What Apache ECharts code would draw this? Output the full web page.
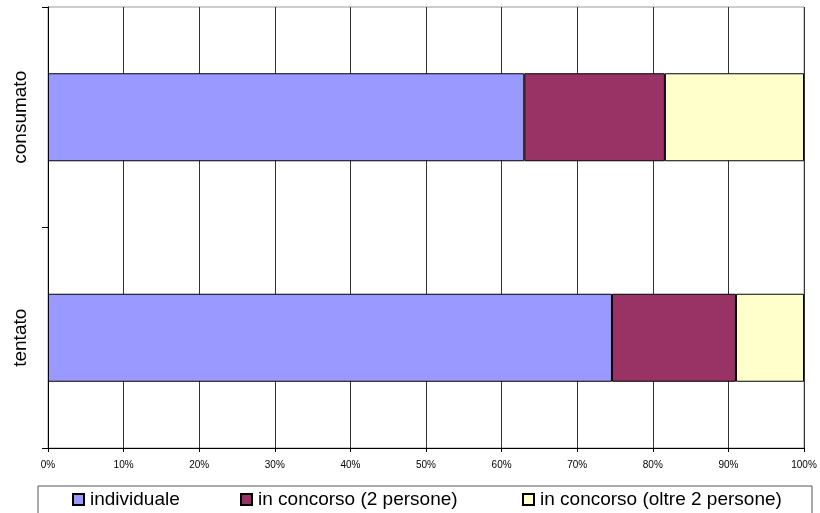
<!DOCTYPE html>
<html><head><meta charset="utf-8">
<script src="https://cdn.jsdelivr.net/npm/echarts@6/dist/echarts.min.js"></script>
<style>html,body{margin:0;padding:0;background:#fff}#c{width:820px;height:513px}</style>
</head><body><div id="c"></div>
<script>
const categories = ['tentato', 'consumato'];
const seriesNames = ['individuale', 'in concorso (2 persone)', 'in concorso (oltre 2 persone)'];
const individuale = [74.6, 63.0];
const concorso2 = [16.4, 18.6];
const concorsoOltre2 = [9.0, 18.4];
const xTicks = [0, 10, 20, 30, 40, 50, 60, 70, 80, 90, 100];
const colors = ['#9999FF', '#993366', '#FFFFCC'];

const F = '"Liberation Sans", Arial, sans-serif';
const chart = echarts.init(document.getElementById('c'));
const values = [individuale, concorso2, concorsoOltre2];
const legendX = [72, 240, 522];
chart.setOption({
  animation: false,
  backgroundColor: '#fff',
  textStyle: { fontFamily: F },
  grid: { left: 48, right: 16, top: 7, bottom: 65, show: true, borderColor: '#999', borderWidth: 1 },
  graphic: [{ type: 'rect', shape: { x: 38, y: 486, width: 774, height: 40 }, style: { fill: 'none', stroke: '#555', lineWidth: 1 } }],
  legend: seriesNames.map((n, i) => ({
    data: [n], left: legendX[i], top: 490, padding: 0, itemWidth: 11, itemHeight: 11, itemGap: 0,
    textStyle: { fontFamily: F, fontSize: 19, color: '#000', padding: [0, 0, 0, 1] },
    icon: 'rect', selectedMode: false
  })),
  xAxis: {
    type: 'value', min: 0, max: 100, interval: 10,
    axisLine: { show: true, lineStyle: { color: '#000', width: 1 } },
    axisTick: { show: true, length: 4, lineStyle: { color: '#000' } },
    axisLabel: { formatter: v => xTicks.includes(v) ? v + '%' : '', fontSize: 10, color: '#000', fontFamily: F, margin: 12 },
    splitLine: { show: true, lineStyle: { color: '#333', width: 1 } }
  },
  yAxis: {
    type: 'category', data: categories,
    axisLine: { show: true, lineStyle: { color: '#000', width: 1 } },
    axisTick: { show: true, length: 6, lineStyle: { color: '#000' } },
    axisLabel: { rotate: 90, fontSize: 19, color: '#000', fontFamily: F, margin: 18 },
    splitLine: { show: false }
  },
  series: seriesNames.map((n, i) => ({
    name: n, type: 'bar', stack: 'total', data: values[i], barWidth: 88,
    itemStyle: { color: colors[i], borderColor: '#000', borderWidth: 1 }
  }))
});
</script></body></html>
